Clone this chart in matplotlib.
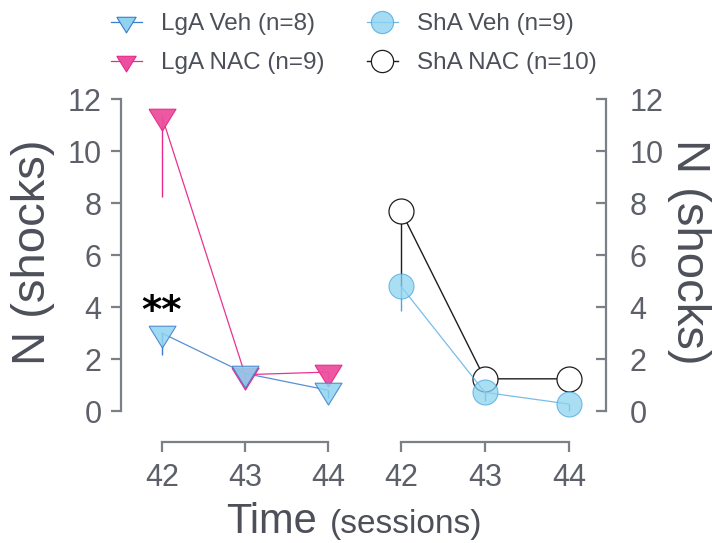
import numpy as np
import matplotlib
matplotlib.use("Agg")
import matplotlib.pyplot as plt
from matplotlib.lines import Line2D

plt.rcParams['font.family'] = ['Liberation Sans', 'DejaVu Sans']

# ---------------------------------------------------------------
# data
# ---------------------------------------------------------------
sessions = [42, 43, 44]

lga_veh = [3.0, 1.45, 0.8]
lga_veh_err = [0.85, 0.5, 0.3]
lga_nac = [11.35, 1.4, 1.5]
lga_nac_err = [3.1, 0.55, 0.3]

sha_veh = [4.8, 0.72, 0.27]
sha_veh_err = [0.95, 0.35, 0.25]
sha_nac = [7.7, 1.24, 1.24]
sha_nac_err = [2.9, 0.4, 0.4]

labels = ['LgA Veh (n=8)', 'LgA NAC (n=9)', 'ShA Veh (n=9)', 'ShA NAC (n=10)']
yticks = [0, 2, 4, 6, 8, 10, 12]

# ---------------------------------------------------------------
# styles
# ---------------------------------------------------------------
W, H = 712, 543
SPINE = '#7b7f88'
TICKTXT = '#5d6069'
LABTXT = '#4d5059'

veh_line, veh_face = '#3b7ccc', '#8fd3f0'
nac_line, nac_face = '#e8288a', '#ec4f9d'
sveh_line, sveh_face = '#4aa8e0', '#8dd3f0'
snac_line = '#1e1e1e'

# down triangle, wider than tall, centred on its centroid
tri = [(-1, 0.54), (1, 0.54), (0, -1.08), (-1, 0.54)]


def px_axes(left, right, top, bottom):
    return [left / W, 1 - bottom / H, (right - left) / W, (bottom - top) / H]


fig = plt.figure(figsize=(W / 100, H / 100), dpi=100)
axL = fig.add_axes(px_axes(121, 345, 90, 442))
axR = fig.add_axes(px_axes(385, 605.7, 90, 442))

for ax in (axL, axR):
    ax.set_ylim(-1.19, 12.35)
    ax.set_yticks(yticks)
    ax.set_xticks(sessions)
    ax.spines['top'].set_visible(False)
    ax.spines['bottom'].set_bounds(42, 44)
    ax.spines['bottom'].set_color(SPINE)
    ax.spines['bottom'].set_linewidth(1.6)
    ax.tick_params(axis='x', direction='out', length=7, width=1.6,
                   color=SPINE, labelcolor=TICKTXT, labelsize=22, pad=8)
    ax.patch.set_alpha(0)

axL.set_xlim(41.51, 44.2)
axR.set_xlim(41.81, 44.44)

axL.spines['right'].set_visible(False)
axL.spines['left'].set_bounds(0, 12)
axL.spines['left'].set_color(SPINE)
axL.spines['left'].set_linewidth(1.6)
axL.tick_params(axis='y', direction='out', length=7, width=1.6,
                color=SPINE, labelcolor=TICKTXT, labelsize=22, pad=7)

axR.spines['left'].set_visible(False)
axR.spines['right'].set_bounds(0, 12)
axR.spines['right'].set_color(SPINE)
axR.spines['right'].set_linewidth(1.6)
axR.yaxis.tick_right()
axR.tick_params(axis='y', direction='in', length=7, width=1.6,
                color=SPINE, labelcolor=TICKTXT, labelsize=22, pad=17)

# ---------------------------------------------------------------
# left panel: LgA
# ---------------------------------------------------------------
axL.errorbar(sessions, lga_nac, yerr=[lga_nac_err, [0, 0, 0]], fmt='none',
             ecolor=nac_line, elinewidth=1.0, capsize=0, zorder=2)
axL.plot(sessions, lga_nac, color=nac_line, lw=0.9, marker=tri, ms=21,
         mfc=nac_face, mec=nac_line, mew=0.8, alpha=0.95, zorder=3)
axL.errorbar(sessions, lga_veh, yerr=[lga_veh_err, [0, 0, 0]], fmt='none',
             ecolor=veh_line, elinewidth=1.0, capsize=0, zorder=4)
axL.plot(sessions, lga_veh, color=veh_line, lw=0.9, marker=tri, ms=21,
         mfc=veh_face, mec=veh_line, mew=0.8, alpha=0.85, zorder=5)

axL.text(42, 3.8, '**', ha='center', va='center', fontsize=28,
         fontweight='bold', color='black', family='DejaVu Sans')

# ---------------------------------------------------------------
# right panel: ShA
# ---------------------------------------------------------------
axR.errorbar(sessions, sha_nac, yerr=[sha_nac_err, [0, 0, 0]], fmt='none',
             ecolor=snac_line, elinewidth=1.0, capsize=0, zorder=2)
axR.plot(sessions, sha_nac, color=snac_line, lw=1.0, marker='o', ms=18,
         mfc='white', mec=snac_line, mew=0.9, zorder=3)
axR.errorbar(sessions, sha_veh, yerr=[sha_veh_err, [0, 0, 0]], fmt='none',
             ecolor=sveh_line, elinewidth=1.0, capsize=0, zorder=4)
axR.plot(sessions, sha_veh, color=sveh_line, lw=0.9, marker='o', ms=18,
         mfc=sveh_face, mec=sveh_line, mew=0.8, alpha=0.75, zorder=5)

# ---------------------------------------------------------------
# labels
# ---------------------------------------------------------------
fig.text(33 / W, 1 - 252 / H, 'N (shocks)', rotation=90, ha='center',
         va='center', fontsize=34, color=LABTXT)
fig.text(689 / W, 1 - 252 / H, 'N (shocks)', rotation=270, ha='center',
         va='center', fontsize=34, color=LABTXT)
fig.text(226 / W, 1 - 533 / H, 'Time', ha='left', va='baseline',
         fontsize=30, color=LABTXT)
fig.text(330 / W, 1 - 533 / H, '(sessions)', ha='left', va='baseline',
         fontsize=24, color=LABTXT)

# legend with proxies (smaller markers than in the plot)
handles = [
    Line2D([], [], color=veh_line, lw=0.9, marker=tri, ms=15,
           mfc=veh_face, mec=veh_line, mew=0.8),
    Line2D([], [], color=nac_line, lw=0.9, marker=tri, ms=15,
           mfc=nac_face, mec=nac_line, mew=0.8),
    Line2D([], [], color=sveh_line, lw=0.9, marker='o', ms=16,
           mfc=sveh_face, mec=sveh_line, mew=0.8, alpha=0.8),
    Line2D([], [], color=snac_line, lw=1.0, marker='o', ms=16,
           mfc='white', mec=snac_line, mew=0.9),
]
fig.legend(handles, labels, ncol=2, loc='upper left',
           bbox_to_anchor=(111 / W, 1 - 13 / H), frameon=False,
           fontsize=17.5, labelcolor=LABTXT, handlelength=1.27,
           handletextpad=0.78, columnspacing=1.75, labelspacing=0.7,
           borderpad=0, borderaxespad=0)

fig.savefig('out.png', dpi=100)
